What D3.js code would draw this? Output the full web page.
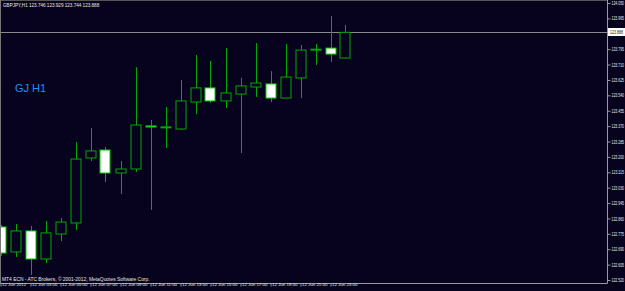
<!DOCTYPE html>
<html><head><meta charset="utf-8">
<script src="https://cdn.jsdelivr.net/npm/d3@7"></script>
<style>html,body{margin:0;padding:0;background:#07031e;overflow:hidden}</style>
</head><body>
<script>
// ---- data ----
const symbolTitle = "GBPJPY,H1  123.746 123.929 123.744 123.888";
const footerText = "MT4 ECN - ATC Brokers, \u00A9 2001-2012, MetaQuotes Software Corp.";
const chartLabel = "GJ H1";
const currentPrice = 123.888;
const opens  = [122.813,122.675,122.791,122.636,122.774,122.835,123.194,123.238,123.111,123.133,123.371,123.365,123.354,123.503,123.581,123.509,123.547,123.586,123.603,123.525,123.636,123.790,123.801,123.746];
const highs  = [122.824,122.829,122.818,122.846,122.862,123.282,123.360,123.255,123.177,123.696,123.404,123.476,123.625,123.763,123.730,123.801,123.636,123.829,123.674,123.824,123.818,123.824,123.978,123.929];
const lows   = [122.653,122.647,122.548,122.614,122.735,122.796,123.177,123.061,122.995,123.117,122.907,123.249,123.349,123.437,123.498,123.470,123.221,123.531,123.503,123.525,123.525,123.708,123.724,123.744];
const closes = [122.669,122.791,122.636,122.780,122.840,123.188,123.233,123.111,123.133,123.376,123.365,123.366,123.509,123.581,123.509,123.553,123.592,123.608,123.525,123.641,123.790,123.795,123.768,123.888];
const priceTicks = ["124.050","123.965","123.880","123.795","123.710","123.625","123.540","123.455","123.370","123.285","123.200","123.115","123.030","122.945","122.860","122.775","122.690","122.605","122.520"];
const timeLabels = ["12 Jun 2012","12 Jun 03:00","12 Jun 05:00","12 Jun 07:00","12 Jun 09:00","12 Jun 11:00","12 Jun 13:00","12 Jun 15:00","12 Jun 17:00","12 Jun 19:00","12 Jun 21:00","12 Jun 23:00"];
const timeLabelBars = [0,2,4,6,8,10,12,14,16,18,20,22];

// ---- layout ----
const W = 625, H = 291;
const plotRight = 607, plotBottom = 283;
const bg = "#07031e", axisCol = "#9a9a9a", green = "#00a800", txt = "#e8e8e8";

const svg = d3.select("body").append("svg").attr("width", W).attr("height", H)
  .style("display","block").style("font-family","'Liberation Sans', Arial, sans-serif");
svg.append("rect").attr("width", W).attr("height", H).attr("fill", bg);

const x = d3.scaleLinear().domain([0, 40]).range([0.5, 600.5]);
const y = d3.scaleLinear().domain([122.520, 124.050]).range([280, 3]);

const plot = svg.append("g");
plot.append("clipPath").attr("id","clip").append("rect").attr("x",0).attr("y",0).attr("width",plotRight).attr("height",plotBottom);
const gc = plot.append("g").attr("clip-path","url(#clip)");

const data = opens.map((o,i)=>({i, o, h:highs[i], l:lows[i], c:closes[i]}));
const bw = 11;

// current price line
gc.append("line").attr("x1",0).attr("x2",plotRight)
  .attr("y1", Math.round(y(currentPrice))+0.5).attr("y2", Math.round(y(currentPrice))+0.5)
  .attr("stroke","#8a8a8a").attr("stroke-width",1);

// wicks
gc.selectAll("line.wick").data(data).join("line").attr("class","wick")
  .attr("x1", d=>Math.round(x(d.i))+0.5).attr("x2", d=>Math.round(x(d.i))+0.5)
  .attr("y1", d=>y(d.h)).attr("y2", d=>y(d.l))
  .attr("stroke", green).attr("stroke-width",1);

// bodies
gc.selectAll("rect.body").data(data).join("rect").attr("class","body")
  .attr("x", d=>Math.round(x(d.i))-5.5+0.5)
  .attr("y", d=>Math.min(y(d.o),y(d.c)))
  .attr("width", bw-1)
  .attr("height", d=>Math.max(1, Math.abs(y(d.o)-y(d.c))))
  .attr("fill", d=> d.c>=d.o ? bg : "#ffffff")
  .attr("stroke", d=> d.c>=d.o ? green : "#00d000").attr("stroke-width",1);

// axes lines
svg.append("line").attr("x1",plotRight+0.5).attr("x2",plotRight+0.5).attr("y1",0).attr("y2",plotBottom+0.5).attr("stroke",axisCol);
svg.append("line").attr("x1",0).attr("x2",plotRight+0.5).attr("y1",plotBottom+0.5).attr("y2",plotBottom+0.5).attr("stroke",axisCol);
svg.append("line").attr("x1",0).attr("x2",plotRight).attr("y1",0.5).attr("y2",0.5).attr("stroke","#555");
svg.append("line").attr("x1",0.5).attr("x2",0.5).attr("y1",0).attr("y2",plotBottom).attr("stroke","#777");

// price axis
const cy = Math.round(y(currentPrice));
const yAxis = d3.axisRight(y).tickValues(priceTicks.map(Number))
  .tickFormat((d,i)=> Math.abs(y(d)-cy) < 5 ? "" : priceTicks[i]).tickSize(3).tickPadding(1);
const ya = svg.append("g").attr("transform",`translate(${plotRight+0.5},0)`).call(yAxis);
ya.select(".domain").remove();
ya.selectAll("line").attr("stroke",axisCol);
ya.selectAll("text").attr("fill",txt).attr("font-size","5px")
  .attr("textLength", d => Math.abs(y(d)-cy) < 5 ? null : 12.5).attr("lengthAdjust","spacingAndGlyphs");

// current price label
svg.append("rect").attr("x",plotRight+1).attr("y",cy-4).attr("width",W-plotRight).attr("height",8).attr("fill","#ffffff");
svg.append("text").attr("x",plotRight+3).attr("y",cy+2).attr("fill","#111").attr("font-size","5px")
  .attr("textLength",13).attr("lengthAdjust","spacingAndGlyphs").text(currentPrice.toFixed(3));

// time axis
const xAxis = d3.axisBottom(x).tickValues(timeLabelBars).tickFormat((d,i)=>timeLabels[i]).tickSize(3).tickPadding(1);
const xa = svg.append("g").attr("transform",`translate(0,${plotBottom+0.5})`).call(xAxis);
xa.select(".domain").remove();
xa.selectAll("line").attr("stroke",axisCol);
xa.selectAll("text").attr("fill",txt).attr("font-size","4.4px").attr("text-anchor","start").attr("dx","1").attr("dy","-0.3em");

// texts
svg.append("text").attr("x",3).attr("y",7).attr("fill",txt).attr("font-size","4.6px").text(symbolTitle);
svg.append("text").attr("x",2).attr("y",280.5).attr("fill",txt).attr("font-size","4.9px").text(footerText);
svg.append("text").attr("x",15).attr("y",92).attr("fill","#1e8fff").attr("font-size","11px").text(chartLabel);
</script>
</body></html>
